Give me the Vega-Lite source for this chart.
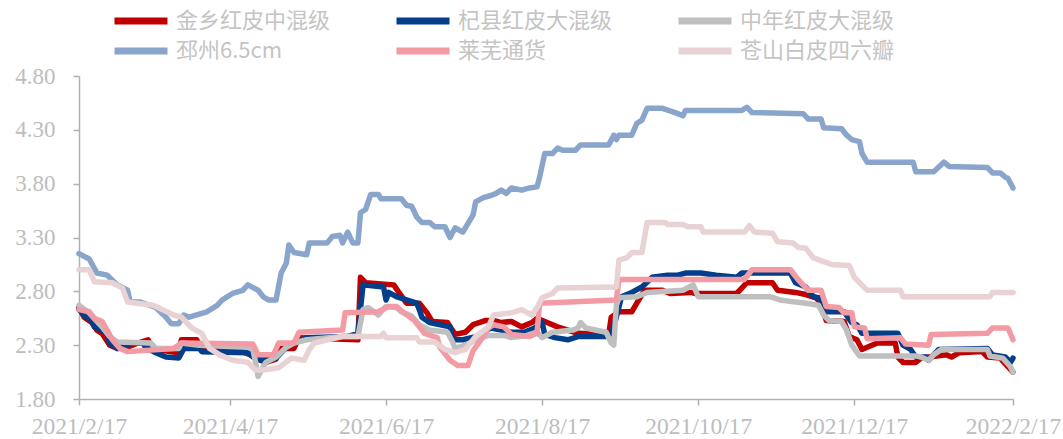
{
"$schema": "https://vega.github.io/schema/vega-lite/v6.json",
"width": 934, "height": 323,
"autosize": {"type": "none"},
"padding": {"left": 79, "top": 76, "right": 50, "bottom": 40},
"background": "white",
"config": {"view": {"stroke": null}},
"data": {"values": [
{"s":"金乡红皮中混级","d":"2021-02-17","v":2.65},{"s":"金乡红皮中混级","d":"2021-02-19","v":2.56},{"s":"金乡红皮中混级","d":"2021-02-22","v":2.51},{"s":"金乡红皮中混级","d":"2021-02-24","v":2.44},{"s":"金乡红皮中混级","d":"2021-02-26","v":2.41},{"s":"金乡红皮中混级","d":"2021-03-01","v":2.30},{"s":"金乡红皮中混级","d":"2021-03-04","v":2.27},{"s":"金乡红皮中混级","d":"2021-03-08","v":2.28},{"s":"金乡红皮中混级","d":"2021-03-12","v":2.32},{"s":"金乡红皮中混级","d":"2021-03-16","v":2.35},{"s":"金乡红皮中混级","d":"2021-03-17","v":2.30},{"s":"金乡红皮中混级","d":"2021-03-19","v":2.26},{"s":"金乡红皮中混级","d":"2021-03-28","v":2.23},{"s":"金乡红皮中混级","d":"2021-03-29","v":2.35},{"s":"金乡红皮中混级","d":"2021-04-04","v":2.35},{"s":"金乡红皮中混级","d":"2021-04-06","v":2.26},{"s":"金乡红皮中混级","d":"2021-04-22","v":2.24},{"s":"金乡红皮中混级","d":"2021-04-25","v":2.21},{"s":"金乡红皮中混级","d":"2021-04-28","v":2.17},{"s":"金乡红皮中混级","d":"2021-05-01","v":2.14},{"s":"金乡红皮中混级","d":"2021-05-05","v":2.17},{"s":"金乡红皮中混级","d":"2021-05-06","v":2.27},{"s":"金乡红皮中混级","d":"2021-05-12","v":2.27},{"s":"金乡红皮中混级","d":"2021-05-14","v":2.37},{"s":"金乡红皮中混级","d":"2021-06-06","v":2.35},{"s":"金乡红皮中混级","d":"2021-06-07","v":2.93},{"s":"金乡红皮中混级","d":"2021-06-09","v":2.88},{"s":"金乡红皮中混级","d":"2021-06-20","v":2.86},{"s":"金乡红皮中混级","d":"2021-06-22","v":2.79},{"s":"金乡红皮中混级","d":"2021-06-25","v":2.69},{"s":"金乡红皮中混级","d":"2021-06-30","v":2.69},{"s":"金乡红皮中混级","d":"2021-07-03","v":2.60},{"s":"金乡红皮中混级","d":"2021-07-05","v":2.52},{"s":"金乡红皮中混级","d":"2021-07-11","v":2.51},{"s":"金乡红皮中混级","d":"2021-07-14","v":2.40},{"s":"金乡红皮中混级","d":"2021-07-18","v":2.42},{"s":"金乡红皮中混级","d":"2021-07-21","v":2.49},{"s":"金乡红皮中混级","d":"2021-07-26","v":2.53},{"s":"金乡红皮中混级","d":"2021-07-29","v":2.53},{"s":"金乡红皮中混级","d":"2021-08-01","v":2.51},{"s":"金乡红皮中混级","d":"2021-08-05","v":2.52},{"s":"金乡红皮中混级","d":"2021-08-09","v":2.47},{"s":"金乡红皮中混级","d":"2021-08-13","v":2.51},{"s":"金乡红皮中混级","d":"2021-08-15","v":2.55},{"s":"金乡红皮中混级","d":"2021-08-18","v":2.52},{"s":"金乡红皮中混级","d":"2021-08-23","v":2.47},{"s":"金乡红皮中混级","d":"2021-08-31","v":2.41},{"s":"金乡红皮中混级","d":"2021-09-12","v":2.40},{"s":"金乡红皮中混级","d":"2021-09-13","v":2.56},{"s":"金乡红皮中混级","d":"2021-09-16","v":2.61},{"s":"金乡红皮中混级","d":"2021-09-21","v":2.61},{"s":"金乡红皮中混级","d":"2021-09-23","v":2.69},{"s":"金乡红皮中混级","d":"2021-09-26","v":2.81},{"s":"金乡红皮中混级","d":"2021-10-03","v":2.81},{"s":"金乡红皮中混级","d":"2021-10-06","v":2.78},{"s":"金乡红皮中混级","d":"2021-10-14","v":2.79},{"s":"金乡红皮中混级","d":"2021-10-16","v":2.78},{"s":"金乡红皮中混级","d":"2021-11-01","v":2.78},{"s":"金乡红皮中混级","d":"2021-11-03","v":2.83},{"s":"金乡红皮中混级","d":"2021-11-05","v":2.88},{"s":"金乡红皮中混级","d":"2021-11-15","v":2.88},{"s":"金乡红皮中混级","d":"2021-11-17","v":2.81},{"s":"金乡红皮中混级","d":"2021-11-24","v":2.79},{"s":"金乡红皮中混级","d":"2021-11-28","v":2.77},{"s":"金乡红皮中混级","d":"2021-12-02","v":2.74},{"s":"金乡红皮中混级","d":"2021-12-04","v":2.69},{"s":"金乡红皮中混级","d":"2021-12-06","v":2.53},{"s":"金乡红皮中混级","d":"2021-12-13","v":2.52},{"s":"金乡红皮中混级","d":"2021-12-15","v":2.38},{"s":"金乡红皮中混级","d":"2021-12-18","v":2.35},{"s":"金乡红皮中混级","d":"2021-12-20","v":2.26},{"s":"金乡红皮中混级","d":"2021-12-22","v":2.28},{"s":"金乡红皮中混级","d":"2021-12-26","v":2.32},{"s":"金乡红皮中混级","d":"2022-01-02","v":2.32},{"s":"金乡红皮中混级","d":"2022-01-03","v":2.19},{"s":"金乡红皮中混级","d":"2022-01-05","v":2.14},{"s":"金乡红皮中混级","d":"2022-01-10","v":2.14},{"s":"金乡红皮中混级","d":"2022-01-12","v":2.18},{"s":"金乡红皮中混级","d":"2022-01-22","v":2.21},{"s":"金乡红皮中混级","d":"2022-01-24","v":2.19},{"s":"金乡红皮中混级","d":"2022-01-27","v":2.23},{"s":"金乡红皮中混级","d":"2022-02-05","v":2.24},{"s":"金乡红皮中混级","d":"2022-02-07","v":2.19},{"s":"金乡红皮中混级","d":"2022-02-12","v":2.18},{"s":"金乡红皮中混级","d":"2022-02-15","v":2.10},{"s":"金乡红皮中混级","d":"2022-02-17","v":2.05},
{"s":"杞县红皮大混级","d":"2021-02-17","v":2.63},{"s":"杞县红皮大混级","d":"2021-02-20","v":2.56},{"s":"杞县红皮大混级","d":"2021-02-22","v":2.53},{"s":"杞县红皮大混级","d":"2021-02-23","v":2.47},{"s":"杞县红皮大混级","d":"2021-02-26","v":2.44},{"s":"杞县红皮大混级","d":"2021-02-28","v":2.41},{"s":"杞县红皮大混级","d":"2021-03-01","v":2.32},{"s":"杞县红皮大混级","d":"2021-03-04","v":2.27},{"s":"杞县红皮大混级","d":"2021-03-10","v":2.32},{"s":"杞县红皮大混级","d":"2021-03-14","v":2.32},{"s":"杞县红皮大混级","d":"2021-03-15","v":2.28},{"s":"杞县红皮大混级","d":"2021-03-19","v":2.23},{"s":"杞县红皮大混级","d":"2021-03-23","v":2.19},{"s":"杞县红皮大混级","d":"2021-03-28","v":2.18},{"s":"杞县红皮大混级","d":"2021-03-30","v":2.27},{"s":"杞县红皮大混级","d":"2021-04-05","v":2.27},{"s":"杞县红皮大混级","d":"2021-04-06","v":2.24},{"s":"杞县红皮大混级","d":"2021-04-24","v":2.23},{"s":"杞县红皮大混级","d":"2021-04-26","v":2.19},{"s":"杞县红皮大混级","d":"2021-04-29","v":2.16},{"s":"杞县红皮大混级","d":"2021-05-01","v":2.18},{"s":"杞县红皮大混级","d":"2021-05-05","v":2.18},{"s":"杞县红皮大混级","d":"2021-05-09","v":2.28},{"s":"杞县红皮大混级","d":"2021-05-12","v":2.32},{"s":"杞县红皮大混级","d":"2021-05-17","v":2.37},{"s":"杞县红皮大混级","d":"2021-06-02","v":2.38},{"s":"杞县红皮大混级","d":"2021-06-06","v":2.41},{"s":"杞县红皮大混级","d":"2021-06-08","v":2.86},{"s":"杞县红皮大混级","d":"2021-06-16","v":2.84},{"s":"杞县红皮大混级","d":"2021-06-17","v":2.72},{"s":"杞县红皮大混级","d":"2021-06-18","v":2.79},{"s":"杞县红皮大混级","d":"2021-06-21","v":2.75},{"s":"杞县红皮大混级","d":"2021-06-25","v":2.72},{"s":"杞县红皮大混级","d":"2021-06-29","v":2.69},{"s":"杞县红皮大混级","d":"2021-06-30","v":2.63},{"s":"杞县红皮大混级","d":"2021-07-01","v":2.56},{"s":"杞县红皮大混级","d":"2021-07-04","v":2.51},{"s":"杞县红皮大混级","d":"2021-07-12","v":2.47},{"s":"杞县红皮大混级","d":"2021-07-13","v":2.35},{"s":"杞县红皮大混级","d":"2021-07-17","v":2.35},{"s":"杞县红皮大混级","d":"2021-07-22","v":2.38},{"s":"杞县红皮大混级","d":"2021-07-28","v":2.46},{"s":"杞县红皮大混级","d":"2021-08-01","v":2.44},{"s":"杞县红皮大混级","d":"2021-08-05","v":2.42},{"s":"杞县红皮大混级","d":"2021-08-10","v":2.42},{"s":"杞县红皮大混级","d":"2021-08-14","v":2.46},{"s":"杞县红皮大混级","d":"2021-08-17","v":2.51},{"s":"杞县红皮大混级","d":"2021-08-18","v":2.40},{"s":"杞县红皮大混级","d":"2021-08-22","v":2.37},{"s":"杞县红皮大混级","d":"2021-08-27","v":2.35},{"s":"杞县红皮大混级","d":"2021-08-31","v":2.38},{"s":"杞县红皮大混级","d":"2021-09-11","v":2.38},{"s":"杞县红皮大混级","d":"2021-09-13","v":2.41},{"s":"杞县红皮大混级","d":"2021-09-15","v":2.56},{"s":"杞县红皮大混级","d":"2021-09-17","v":2.75},{"s":"杞县红皮大混级","d":"2021-09-21","v":2.79},{"s":"杞县红皮大混级","d":"2021-09-25","v":2.84},{"s":"杞县红皮大混级","d":"2021-09-29","v":2.93},{"s":"杞县红皮大混级","d":"2021-10-05","v":2.95},{"s":"杞县红皮大混级","d":"2021-10-09","v":2.95},{"s":"杞县红皮大混级","d":"2021-10-12","v":2.97},{"s":"杞县红皮大混级","d":"2021-10-18","v":2.97},{"s":"杞县红皮大混级","d":"2021-10-24","v":2.95},{"s":"杞县红皮大混级","d":"2021-11-01","v":2.93},{"s":"杞县红皮大混级","d":"2021-11-03","v":2.97},{"s":"杞县红皮大混级","d":"2021-11-22","v":2.97},{"s":"杞县红皮大混级","d":"2021-11-24","v":2.88},{"s":"杞县红皮大混级","d":"2021-11-28","v":2.84},{"s":"杞县红皮大混级","d":"2021-12-01","v":2.75},{"s":"杞县红皮大混级","d":"2021-12-03","v":2.74},{"s":"杞县红皮大混级","d":"2021-12-07","v":2.61},{"s":"杞县红皮大混级","d":"2021-12-13","v":2.61},{"s":"杞县红皮大混级","d":"2021-12-16","v":2.51},{"s":"杞县红皮大混级","d":"2021-12-18","v":2.49},{"s":"杞县红皮大混级","d":"2021-12-20","v":2.41},{"s":"杞县红皮大混级","d":"2022-01-03","v":2.41},{"s":"杞县红皮大混级","d":"2022-01-05","v":2.30},{"s":"杞县红皮大混级","d":"2022-01-08","v":2.26},{"s":"杞县红皮大混级","d":"2022-01-10","v":2.19},{"s":"杞县红皮大混级","d":"2022-01-14","v":2.19},{"s":"杞县红皮大混级","d":"2022-01-15","v":2.16},{"s":"杞县红皮大混级","d":"2022-01-19","v":2.26},{"s":"杞县红皮大混级","d":"2022-02-07","v":2.27},{"s":"杞县红皮大混级","d":"2022-02-09","v":2.21},{"s":"杞县红皮大混级","d":"2022-02-14","v":2.19},{"s":"杞县红皮大混级","d":"2022-02-16","v":2.14},{"s":"杞县红皮大混级","d":"2022-02-17","v":2.18},
{"s":"中年红皮大混级","d":"2021-02-17","v":2.67},{"s":"中年红皮大混级","d":"2021-02-21","v":2.60},{"s":"中年红皮大混级","d":"2021-02-24","v":2.52},{"s":"中年红皮大混级","d":"2021-02-26","v":2.47},{"s":"中年红皮大混级","d":"2021-03-01","v":2.38},{"s":"中年红皮大混级","d":"2021-03-04","v":2.33},{"s":"中年红皮大混级","d":"2021-03-17","v":2.32},{"s":"中年红皮大混级","d":"2021-03-19","v":2.27},{"s":"中年红皮大混级","d":"2021-03-28","v":2.27},{"s":"中年红皮大混级","d":"2021-03-29","v":2.32},{"s":"中年红皮大混级","d":"2021-04-05","v":2.30},{"s":"中年红皮大混级","d":"2021-04-24","v":2.28},{"s":"中年红皮大混级","d":"2021-04-26","v":2.26},{"s":"中年红皮大混级","d":"2021-04-27","v":2.14},{"s":"中年红皮大混级","d":"2021-04-28","v":2.01},{"s":"中年红皮大混级","d":"2021-04-30","v":2.10},{"s":"中年红皮大混级","d":"2021-05-01","v":2.14},{"s":"中年红皮大混级","d":"2021-05-05","v":2.19},{"s":"中年红皮大混级","d":"2021-05-09","v":2.28},{"s":"中年红皮大混级","d":"2021-05-12","v":2.32},{"s":"中年红皮大混级","d":"2021-05-17","v":2.35},{"s":"中年红皮大混级","d":"2021-05-31","v":2.38},{"s":"中年红皮大混级","d":"2021-06-06","v":2.38},{"s":"中年红皮大混级","d":"2021-06-08","v":2.63},{"s":"中年红皮大混级","d":"2021-06-10","v":2.65},{"s":"中年红皮大混级","d":"2021-06-14","v":2.58},{"s":"中年红皮大混级","d":"2021-06-17","v":2.66},{"s":"中年红皮大混级","d":"2021-06-21","v":2.65},{"s":"中年红皮大混级","d":"2021-06-23","v":2.61},{"s":"中年红皮大混级","d":"2021-06-27","v":2.57},{"s":"中年红皮大混级","d":"2021-06-30","v":2.49},{"s":"中年红皮大混级","d":"2021-07-04","v":2.44},{"s":"中年红皮大混级","d":"2021-07-11","v":2.42},{"s":"中年红皮大混级","d":"2021-07-13","v":2.33},{"s":"中年红皮大混级","d":"2021-07-14","v":2.27},{"s":"中年红皮大混级","d":"2021-07-18","v":2.30},{"s":"中年红皮大混级","d":"2021-07-22","v":2.35},{"s":"中年红皮大混级","d":"2021-07-27","v":2.39},{"s":"中年红皮大混级","d":"2021-08-02","v":2.39},{"s":"中年红皮大混级","d":"2021-08-05","v":2.37},{"s":"中年红皮大混级","d":"2021-08-11","v":2.39},{"s":"中年红皮大混级","d":"2021-08-15","v":2.42},{"s":"中年红皮大混级","d":"2021-08-17","v":2.37},{"s":"中年红皮大混级","d":"2021-08-21","v":2.42},{"s":"中年红皮大混级","d":"2021-08-29","v":2.44},{"s":"中年红皮大混级","d":"2021-08-31","v":2.46},{"s":"中年红皮大混级","d":"2021-09-01","v":2.51},{"s":"中年红皮大混级","d":"2021-09-03","v":2.46},{"s":"中年红皮大混级","d":"2021-09-11","v":2.42},{"s":"中年红皮大混级","d":"2021-09-13","v":2.32},{"s":"中年红皮大混级","d":"2021-09-14","v":2.30},{"s":"中年红皮大混级","d":"2021-09-15","v":2.67},{"s":"中年红皮大混级","d":"2021-09-16","v":2.74},{"s":"中年红皮大混级","d":"2021-09-23","v":2.75},{"s":"中年红皮大混级","d":"2021-09-27","v":2.79},{"s":"中年红皮大混级","d":"2021-10-11","v":2.81},{"s":"中年红皮大混级","d":"2021-10-15","v":2.86},{"s":"中年红皮大混级","d":"2021-10-17","v":2.75},{"s":"中年红皮大混级","d":"2021-11-14","v":2.75},{"s":"中年红皮大混级","d":"2021-11-18","v":2.72},{"s":"中年红皮大混级","d":"2021-11-24","v":2.70},{"s":"中年红皮大混级","d":"2021-11-28","v":2.69},{"s":"中年红皮大混级","d":"2021-12-03","v":2.67},{"s":"中年红皮大混级","d":"2021-12-05","v":2.58},{"s":"中年红皮大混级","d":"2021-12-07","v":2.53},{"s":"中年红皮大混级","d":"2021-12-12","v":2.52},{"s":"中年红皮大混级","d":"2021-12-14","v":2.44},{"s":"中年红皮大混级","d":"2021-12-16","v":2.30},{"s":"中年红皮大混级","d":"2021-12-19","v":2.20},{"s":"中年红皮大混级","d":"2022-01-10","v":2.20},{"s":"中年红皮大混级","d":"2022-01-12","v":2.19},{"s":"中年红皮大混级","d":"2022-01-15","v":2.16},{"s":"中年红皮大混级","d":"2022-01-17","v":2.21},{"s":"中年红皮大混级","d":"2022-01-20","v":2.26},{"s":"中年红皮大混级","d":"2022-02-07","v":2.26},{"s":"中年红皮大混级","d":"2022-02-08","v":2.20},{"s":"中年红皮大混级","d":"2022-02-13","v":2.18},{"s":"中年红皮大混级","d":"2022-02-16","v":2.10},{"s":"中年红皮大混级","d":"2022-02-17","v":2.05},
{"s":"邳州6.5cm","d":"2021-02-17","v":3.15},{"s":"邳州6.5cm","d":"2021-02-21","v":3.10},{"s":"邳州6.5cm","d":"2021-02-24","v":2.97},{"s":"邳州6.5cm","d":"2021-02-28","v":2.95},{"s":"邳州6.5cm","d":"2021-03-04","v":2.86},{"s":"邳州6.5cm","d":"2021-03-08","v":2.81},{"s":"邳州6.5cm","d":"2021-03-09","v":2.70},{"s":"邳州6.5cm","d":"2021-03-13","v":2.70},{"s":"邳州6.5cm","d":"2021-03-19","v":2.65},{"s":"邳州6.5cm","d":"2021-03-23","v":2.56},{"s":"邳州6.5cm","d":"2021-03-25","v":2.50},{"s":"邳州6.5cm","d":"2021-03-28","v":2.50},{"s":"邳州6.5cm","d":"2021-03-30","v":2.58},{"s":"邳州6.5cm","d":"2021-04-01","v":2.56},{"s":"邳州6.5cm","d":"2021-04-08","v":2.61},{"s":"邳州6.5cm","d":"2021-04-12","v":2.67},{"s":"邳州6.5cm","d":"2021-04-14","v":2.72},{"s":"邳州6.5cm","d":"2021-04-18","v":2.78},{"s":"邳州6.5cm","d":"2021-04-22","v":2.81},{"s":"邳州6.5cm","d":"2021-04-24","v":2.86},{"s":"邳州6.5cm","d":"2021-04-28","v":2.81},{"s":"邳州6.5cm","d":"2021-04-30","v":2.75},{"s":"邳州6.5cm","d":"2021-05-02","v":2.72},{"s":"邳州6.5cm","d":"2021-05-05","v":2.72},{"s":"邳州6.5cm","d":"2021-05-07","v":2.97},{"s":"邳州6.5cm","d":"2021-05-09","v":3.06},{"s":"邳州6.5cm","d":"2021-05-10","v":3.23},{"s":"邳州6.5cm","d":"2021-05-12","v":3.16},{"s":"邳州6.5cm","d":"2021-05-17","v":3.14},{"s":"邳州6.5cm","d":"2021-05-18","v":3.25},{"s":"邳州6.5cm","d":"2021-05-25","v":3.25},{"s":"邳州6.5cm","d":"2021-05-27","v":3.31},{"s":"邳州6.5cm","d":"2021-05-30","v":3.32},{"s":"邳州6.5cm","d":"2021-05-31","v":3.25},{"s":"邳州6.5cm","d":"2021-06-02","v":3.35},{"s":"邳州6.5cm","d":"2021-06-04","v":3.25},{"s":"邳州6.5cm","d":"2021-06-06","v":3.25},{"s":"邳州6.5cm","d":"2021-06-07","v":3.53},{"s":"邳州6.5cm","d":"2021-06-09","v":3.56},{"s":"邳州6.5cm","d":"2021-06-11","v":3.70},{"s":"邳州6.5cm","d":"2021-06-14","v":3.70},{"s":"邳州6.5cm","d":"2021-06-15","v":3.66},{"s":"邳州6.5cm","d":"2021-06-23","v":3.66},{"s":"邳州6.5cm","d":"2021-06-25","v":3.60},{"s":"邳州6.5cm","d":"2021-06-27","v":3.59},{"s":"邳州6.5cm","d":"2021-06-29","v":3.49},{"s":"邳州6.5cm","d":"2021-07-01","v":3.44},{"s":"邳州6.5cm","d":"2021-07-04","v":3.44},{"s":"邳州6.5cm","d":"2021-07-06","v":3.40},{"s":"邳州6.5cm","d":"2021-07-10","v":3.40},{"s":"邳州6.5cm","d":"2021-07-12","v":3.30},{"s":"邳州6.5cm","d":"2021-07-14","v":3.39},{"s":"邳州6.5cm","d":"2021-07-17","v":3.35},{"s":"邳州6.5cm","d":"2021-07-21","v":3.51},{"s":"邳州6.5cm","d":"2021-07-22","v":3.63},{"s":"邳州6.5cm","d":"2021-07-25","v":3.67},{"s":"邳州6.5cm","d":"2021-07-28","v":3.69},{"s":"邳州6.5cm","d":"2021-07-30","v":3.71},{"s":"邳州6.5cm","d":"2021-08-01","v":3.74},{"s":"邳州6.5cm","d":"2021-08-03","v":3.71},{"s":"邳州6.5cm","d":"2021-08-05","v":3.76},{"s":"邳州6.5cm","d":"2021-08-09","v":3.74},{"s":"邳州6.5cm","d":"2021-08-12","v":3.76},{"s":"邳州6.5cm","d":"2021-08-15","v":3.77},{"s":"邳州6.5cm","d":"2021-08-16","v":3.86},{"s":"邳州6.5cm","d":"2021-08-18","v":4.08},{"s":"邳州6.5cm","d":"2021-08-21","v":4.08},{"s":"邳州6.5cm","d":"2021-08-23","v":4.13},{"s":"邳州6.5cm","d":"2021-08-25","v":4.11},{"s":"邳州6.5cm","d":"2021-08-30","v":4.11},{"s":"邳州6.5cm","d":"2021-09-01","v":4.16},{"s":"邳州6.5cm","d":"2021-09-12","v":4.16},{"s":"邳州6.5cm","d":"2021-09-14","v":4.25},{"s":"邳州6.5cm","d":"2021-09-15","v":4.21},{"s":"邳州6.5cm","d":"2021-09-16","v":4.25},{"s":"邳州6.5cm","d":"2021-09-21","v":4.25},{"s":"邳州6.5cm","d":"2021-09-23","v":4.36},{"s":"邳州6.5cm","d":"2021-09-25","v":4.39},{"s":"邳州6.5cm","d":"2021-09-27","v":4.50},{"s":"邳州6.5cm","d":"2021-10-03","v":4.50},{"s":"邳州6.5cm","d":"2021-10-08","v":4.46},{"s":"邳州6.5cm","d":"2021-10-11","v":4.43},{"s":"邳州6.5cm","d":"2021-10-12","v":4.48},{"s":"邳州6.5cm","d":"2021-11-03","v":4.48},{"s":"邳州6.5cm","d":"2021-11-05","v":4.51},{"s":"邳州6.5cm","d":"2021-11-07","v":4.46},{"s":"邳州6.5cm","d":"2021-11-27","v":4.45},{"s":"邳州6.5cm","d":"2021-11-29","v":4.40},{"s":"邳州6.5cm","d":"2021-12-04","v":4.40},{"s":"邳州6.5cm","d":"2021-12-05","v":4.32},{"s":"邳州6.5cm","d":"2021-12-12","v":4.31},{"s":"邳州6.5cm","d":"2021-12-14","v":4.25},{"s":"邳州6.5cm","d":"2021-12-16","v":4.21},{"s":"邳州6.5cm","d":"2021-12-19","v":4.19},{"s":"邳州6.5cm","d":"2021-12-20","v":4.08},{"s":"邳州6.5cm","d":"2021-12-22","v":4.00},{"s":"邳州6.5cm","d":"2022-01-09","v":4.00},{"s":"邳州6.5cm","d":"2022-01-10","v":3.91},{"s":"邳州6.5cm","d":"2022-01-17","v":3.91},{"s":"邳州6.5cm","d":"2022-01-21","v":4.00},{"s":"邳州6.5cm","d":"2022-01-23","v":3.96},{"s":"邳州6.5cm","d":"2022-02-07","v":3.95},{"s":"邳州6.5cm","d":"2022-02-09","v":3.90},{"s":"邳州6.5cm","d":"2022-02-12","v":3.90},{"s":"邳州6.5cm","d":"2022-02-14","v":3.86},{"s":"邳州6.5cm","d":"2022-02-15","v":3.85},{"s":"邳州6.5cm","d":"2022-02-17","v":3.76},
{"s":"莱芜通货","d":"2021-02-17","v":2.63},{"s":"莱芜通货","d":"2021-02-21","v":2.61},{"s":"莱芜通货","d":"2021-02-23","v":2.55},{"s":"莱芜通货","d":"2021-02-26","v":2.52},{"s":"莱芜通货","d":"2021-02-28","v":2.44},{"s":"莱芜通货","d":"2021-03-02","v":2.35},{"s":"莱芜通货","d":"2021-03-05","v":2.27},{"s":"莱芜通货","d":"2021-03-08","v":2.24},{"s":"莱芜通货","d":"2021-03-26","v":2.27},{"s":"莱芜通货","d":"2021-03-29","v":2.32},{"s":"莱芜通货","d":"2021-04-26","v":2.31},{"s":"莱芜通货","d":"2021-04-28","v":2.21},{"s":"莱芜通货","d":"2021-05-04","v":2.21},{"s":"莱芜通货","d":"2021-05-06","v":2.32},{"s":"莱芜通货","d":"2021-05-12","v":2.32},{"s":"莱芜通货","d":"2021-05-14","v":2.42},{"s":"莱芜通货","d":"2021-05-31","v":2.44},{"s":"莱芜通货","d":"2021-06-01","v":2.60},{"s":"莱芜通货","d":"2021-06-14","v":2.61},{"s":"莱芜通货","d":"2021-06-18","v":2.66},{"s":"莱芜通货","d":"2021-06-21","v":2.66},{"s":"莱芜通货","d":"2021-06-24","v":2.60},{"s":"莱芜通货","d":"2021-06-28","v":2.53},{"s":"莱芜通货","d":"2021-07-02","v":2.41},{"s":"莱芜通货","d":"2021-07-07","v":2.37},{"s":"莱芜通货","d":"2021-07-08","v":2.28},{"s":"莱芜通货","d":"2021-07-12","v":2.16},{"s":"莱芜通货","d":"2021-07-15","v":2.11},{"s":"莱芜通货","d":"2021-07-19","v":2.11},{"s":"莱芜通货","d":"2021-07-21","v":2.25},{"s":"莱芜通货","d":"2021-07-25","v":2.38},{"s":"莱芜通货","d":"2021-07-27","v":2.46},{"s":"莱芜通货","d":"2021-07-29","v":2.49},{"s":"莱芜通货","d":"2021-08-02","v":2.47},{"s":"莱芜通货","d":"2021-08-05","v":2.40},{"s":"莱芜通货","d":"2021-08-12","v":2.38},{"s":"莱芜通货","d":"2021-08-15","v":2.41},{"s":"莱芜通货","d":"2021-08-16","v":2.69},{"s":"莱芜通货","d":"2021-09-15","v":2.72},{"s":"莱芜通货","d":"2021-09-16","v":2.91},{"s":"莱芜通货","d":"2021-11-04","v":2.91},{"s":"莱芜通货","d":"2021-11-07","v":3.00},{"s":"莱芜通货","d":"2021-11-22","v":3.00},{"s":"莱芜通货","d":"2021-11-25","v":2.91},{"s":"莱芜通货","d":"2021-11-29","v":2.81},{"s":"莱芜通货","d":"2021-12-04","v":2.81},{"s":"莱芜通货","d":"2021-12-06","v":2.66},{"s":"莱芜通货","d":"2021-12-11","v":2.65},{"s":"莱芜通货","d":"2021-12-13","v":2.60},{"s":"莱芜通货","d":"2021-12-16","v":2.60},{"s":"莱芜通货","d":"2021-12-17","v":2.47},{"s":"莱芜通货","d":"2021-12-21","v":2.46},{"s":"莱芜通货","d":"2021-12-22","v":2.36},{"s":"莱芜通货","d":"2022-01-04","v":2.37},{"s":"莱芜通货","d":"2022-01-06","v":2.31},{"s":"莱芜通货","d":"2022-01-15","v":2.30},{"s":"莱芜通货","d":"2022-01-16","v":2.40},{"s":"莱芜通货","d":"2022-02-07","v":2.41},{"s":"莱芜通货","d":"2022-02-09","v":2.46},{"s":"莱芜通货","d":"2022-02-15","v":2.46},{"s":"莱芜通货","d":"2022-02-17","v":2.35},
{"s":"苍山白皮四六瓣","d":"2021-02-17","v":3.00},{"s":"苍山白皮四六瓣","d":"2021-02-21","v":3.00},{"s":"苍山白皮四六瓣","d":"2021-02-23","v":2.89},{"s":"苍山白皮四六瓣","d":"2021-03-02","v":2.88},{"s":"苍山白皮四六瓣","d":"2021-03-06","v":2.83},{"s":"苍山白皮四六瓣","d":"2021-03-08","v":2.70},{"s":"苍山白皮四六瓣","d":"2021-03-18","v":2.67},{"s":"苍山白皮四六瓣","d":"2021-03-26","v":2.58},{"s":"苍山白皮四六瓣","d":"2021-03-29","v":2.56},{"s":"苍山白皮四六瓣","d":"2021-04-02","v":2.46},{"s":"苍山白皮四六瓣","d":"2021-04-06","v":2.41},{"s":"苍山白皮四六瓣","d":"2021-04-09","v":2.27},{"s":"苍山白皮四六瓣","d":"2021-04-13","v":2.21},{"s":"苍山白皮四六瓣","d":"2021-04-18","v":2.16},{"s":"苍山白皮四六瓣","d":"2021-04-24","v":2.14},{"s":"苍山白皮四六瓣","d":"2021-04-27","v":2.07},{"s":"苍山白皮四六瓣","d":"2021-04-30","v":2.07},{"s":"苍山白皮四六瓣","d":"2021-05-06","v":2.09},{"s":"苍山白皮四六瓣","d":"2021-05-11","v":2.18},{"s":"苍山白皮四六瓣","d":"2021-05-16","v":2.16},{"s":"苍山白皮四六瓣","d":"2021-05-18","v":2.26},{"s":"苍山白皮四六瓣","d":"2021-05-20","v":2.32},{"s":"苍山白皮四六瓣","d":"2021-05-25","v":2.35},{"s":"苍山白皮四六瓣","d":"2021-05-31","v":2.38},{"s":"苍山白皮四六瓣","d":"2021-06-15","v":2.38},{"s":"苍山白皮四六瓣","d":"2021-06-16","v":2.41},{"s":"苍山白皮四六瓣","d":"2021-06-17","v":2.37},{"s":"苍山白皮四六瓣","d":"2021-06-29","v":2.37},{"s":"苍山白皮四六瓣","d":"2021-06-30","v":2.33},{"s":"苍山白皮四六瓣","d":"2021-07-06","v":2.33},{"s":"苍山白皮四六瓣","d":"2021-07-10","v":2.26},{"s":"苍山白皮四六瓣","d":"2021-07-14","v":2.23},{"s":"苍山白皮四六瓣","d":"2021-07-18","v":2.26},{"s":"苍山白皮四六瓣","d":"2021-07-22","v":2.38},{"s":"苍山白皮四六瓣","d":"2021-07-27","v":2.47},{"s":"苍山白皮四六瓣","d":"2021-07-29","v":2.58},{"s":"苍山白皮四六瓣","d":"2021-08-05","v":2.60},{"s":"苍山白皮四六瓣","d":"2021-08-09","v":2.63},{"s":"苍山白皮四六瓣","d":"2021-08-13","v":2.58},{"s":"苍山白皮四六瓣","d":"2021-08-15","v":2.65},{"s":"苍山白皮四六瓣","d":"2021-08-17","v":2.74},{"s":"苍山白皮四六瓣","d":"2021-08-21","v":2.78},{"s":"苍山白皮四六瓣","d":"2021-08-23","v":2.83},{"s":"苍山白皮四六瓣","d":"2021-09-15","v":2.84},{"s":"苍山白皮四六瓣","d":"2021-09-16","v":3.09},{"s":"苍山白皮四六瓣","d":"2021-09-19","v":3.11},{"s":"苍山白皮四六瓣","d":"2021-09-21","v":3.16},{"s":"苍山白皮四六瓣","d":"2021-09-25","v":3.16},{"s":"苍山白皮四六瓣","d":"2021-09-27","v":3.44},{"s":"苍山白皮四六瓣","d":"2021-10-04","v":3.44},{"s":"苍山白皮四六瓣","d":"2021-10-05","v":3.42},{"s":"苍山白皮四六瓣","d":"2021-10-11","v":3.42},{"s":"苍山白皮四六瓣","d":"2021-10-13","v":3.40},{"s":"苍山白皮四六瓣","d":"2021-10-18","v":3.40},{"s":"苍山白皮四六瓣","d":"2021-10-19","v":3.35},{"s":"苍山白皮四六瓣","d":"2021-11-04","v":3.35},{"s":"苍山白皮四六瓣","d":"2021-11-06","v":3.41},{"s":"苍山白皮四六瓣","d":"2021-11-08","v":3.35},{"s":"苍山白皮四六瓣","d":"2021-11-15","v":3.34},{"s":"苍山白皮四六瓣","d":"2021-11-17","v":3.26},{"s":"苍山白皮四六瓣","d":"2021-11-23","v":3.25},{"s":"苍山白皮四六瓣","d":"2021-11-25","v":3.21},{"s":"苍山白皮四六瓣","d":"2021-11-28","v":3.20},{"s":"苍山白皮四六瓣","d":"2021-11-30","v":3.14},{"s":"苍山白皮四六瓣","d":"2021-12-01","v":3.11},{"s":"苍山白皮四六瓣","d":"2021-12-08","v":3.05},{"s":"苍山白皮四六瓣","d":"2021-12-15","v":3.04},{"s":"苍山白皮四六瓣","d":"2021-12-17","v":2.93},{"s":"苍山白皮四六瓣","d":"2021-12-19","v":2.88},{"s":"苍山白皮四六瓣","d":"2021-12-22","v":2.81},{"s":"苍山白皮四六瓣","d":"2022-01-04","v":2.81},{"s":"苍山白皮四六瓣","d":"2022-01-05","v":2.75},{"s":"苍山白皮四六瓣","d":"2022-02-08","v":2.75},{"s":"苍山白皮四六瓣","d":"2022-02-09","v":2.79},{"s":"苍山白皮四六瓣","d":"2022-02-17","v":2.79}
]},
"mark": {"type": "line", "strokeWidth": 5.5, "strokeCap": "round", "strokeJoin": "round"},
"encoding": {
  "x": {"field": "d", "type": "temporal",
    "scale": {"type": "utc", "domain": [{"year": 2021, "month": 2, "date": 17, "utc": true}, {"year": 2022, "month": 2, "date": 17, "utc": true}], "nice": false},
    "axis": {"title": null, "grid": false,
      "values": [{"year": 2021, "month": 2, "date": 17, "utc": true}, {"year": 2021, "month": 4, "date": 17, "utc": true}, {"year": 2021, "month": 6, "date": 17, "utc": true}, {"year": 2021, "month": 8, "date": 17, "utc": true}, {"year": 2021, "month": 10, "date": 17, "utc": true}, {"year": 2021, "month": 12, "date": 17, "utc": true}, {"year": 2022, "month": 2, "date": 17, "utc": true}],
      "labelExpr": "utcFormat(datum.value, '%Y/%-m/%-d')",
      "labelFont": "Liberation Serif", "labelFontSize": 23.5, "labelColor": "#bdbdbd", "labelPadding": 9,
      "labelFlush": false, "labelOverlap": false,
      "domainColor": "#b0b0b0", "domainWidth": 1.5, "tickColor": "#b0b0b0", "tickWidth": 1.5, "tickSize": 6}},
  "y": {"field": "v", "type": "quantitative",
    "scale": {"domain": [1.8, 4.8], "nice": false, "zero": false},
    "axis": {"title": null, "grid": false, "values": [1.8, 2.3, 2.8, 3.3, 3.8, 4.3, 4.8], "format": ".2f",
      "labelFont": "Liberation Serif", "labelFontSize": 23, "labelColor": "#bdbdbd", "labelPadding": 18,
      "domainColor": "#b0b0b0", "domainWidth": 1.5, "tickColor": "#b0b0b0", "tickWidth": 1.5, "tickSize": 6}},
  "color": {"field": "s", "type": "nominal",
    "scale": {"domain": ["金乡红皮中混级", "杞县红皮大混级", "中年红皮大混级", "邳州6.5cm", "莱芜通货", "苍山白皮四六瓣"],
      "range": ["#c00000", "#023e8a", "#bfbfbf", "#8aa5cb", "#f29ba5", "#e8d2d3"]},
    "legend": {"title": null, "orient": "none", "legendX": 32, "legendY": -67, "columns": 3, "direction": "horizontal",
      "symbolType": "stroke", "symbolSize": 2809, "symbolStrokeWidth": 7, "clipHeight": 24,
      "labelFont": "Noto Sans CJK SC", "labelFontSize": 22, "labelColor": "#c4c4c4", "labelOffset": 5, "labelLimit": 400,
      "columnPadding": 62, "rowPadding": 6, "padding": 0}}
}
}
